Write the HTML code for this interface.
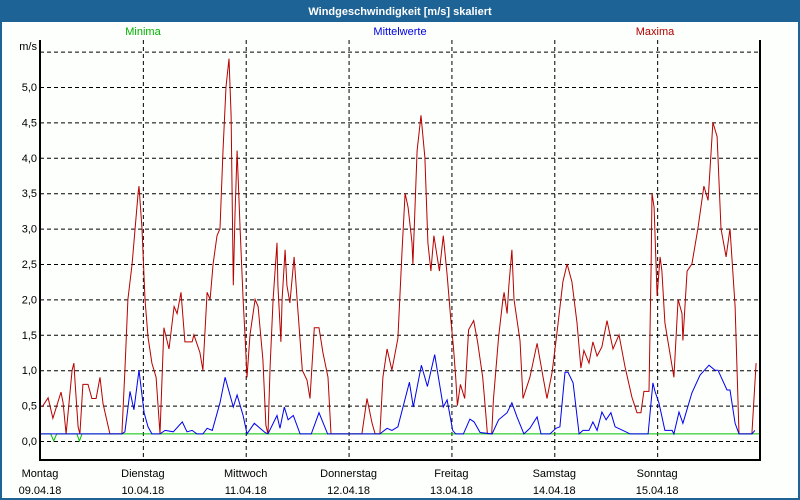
<!DOCTYPE html>
<html><head><meta charset="utf-8"><style>
body{margin:0;background:#fff;}
#wrap{position:relative;width:800px;height:500px;overflow:hidden;background:#1d6396;}
svg{position:absolute;left:0;top:0;}
text{font-family:"Liberation Sans",sans-serif;font-size:11px;}
</style></head><body>
<div id="wrap">
<svg id="chart" width="800" height="500">
<rect x="2" y="22" width="796" height="476" fill="#fcfffc"/>
<text x="400" y="15" text-anchor="middle" fill="#fff" font-weight="bold">Windgeschwindigkeit [m/s] skaliert</text>
<text x="143" y="35" text-anchor="middle" fill="#00b000">Minima</text>
<text x="400" y="35" text-anchor="middle" fill="#0000e0">Mittelwerte</text>
<text x="655" y="35" text-anchor="middle" fill="#b00000">Maxima</text>
<text x="37" y="50" text-anchor="end" fill="#000">m/s</text>
<g id="grid"></g><g id="series"></g>
<line x1="40" y1="40" x2="40" y2="461" stroke="#000" stroke-width="2"/>
<line x1="40" y1="460" x2="761" y2="460" stroke="#000" stroke-width="2"/>
<line x1="760" y1="40" x2="760" y2="461" stroke="#000" stroke-width="2"/>
</svg>
</div>
<script>
const yTicks=[0,0.5,1,1.5,2,2.5,3,3.5,4,4.5,5,5.5];
const yTickLabels=["0,0","0,5","1,0","1,5","2,0","2,5","3,0","3,5","4,0","4,5","5,0",""];
const dayNames=["Montag","Dienstag","Mittwoch","Donnerstag","Freitag","Samstag","Sonntag"];
const dayDates=["09.04.18","10.04.18","11.04.18","12.04.18","13.04.18","14.04.18","15.04.18"];
const maxT=[0.5,1.9,3.0,4.9,5.4,6.1,7.5,7.9,8.2,8.9,9.3,10.0,11.2,12.1,13.1,14.0,14.7,16.3,19.1,19.8,20.5,21.5,22.2,22.9,23.1,23.8,24.5,25.2,26.1,27.1,28.0,28.9,30.1,31.3,32.0,32.9,33.8,35.5,35.9,37.3,38.0,39.0,39.7,40.4,41.3,42.0,42.7,43.4,44.1,44.6,45.1,45.5,46.0,46.7,47.4,47.8,48.3,49.0,50.2,50.9,52.0,52.7,53.2,53.7,54.4,55.3,55.5,56.2,56.5,57.2,57.6,58.3,59.3,60.0,61.2,62.3,63.0,64.0,65.1,66.0,67.2,67.9,75.1,76.3,77.5,78.2,79.3,80.0,81.0,82.1,83.5,84.5,85.2,85.9,86.8,87.0,88.0,88.9,89.8,90.5,91.2,91.9,93.2,94.1,95.0,95.8,96.5,97.0,97.4,98.1,99.1,100.0,101.2,102.1,103.3,104.0,104.4,105.4,105.8,107.0,108.0,108.3,109.0,109.4,110.1,110.6,112.0,112.7,114.3,116.0,117.4,118.3,119.5,120.6,122.0,123.0,124.1,125.3,126.2,126.9,128.1,129.0,130.0,131.1,132.3,133.7,135.1,136.5,138.1,139.3,140.2,140.9,142.1,142.6,142.8,143.3,144.0,144.7,145.1,145.8,147.9,148.9,149.8,150.0,151.0,152.1,153.5,154.9,155.9,157.0,158.0,158.9,160.1,161.0,162.2,163.1,166.1,167.1];
const maxV=[0.48,0.61,0.32,0.69,0.54,0.1,1.0,1.1,0.82,0.2,0.1,0.8,0.8,0.6,0.6,0.9,0.53,0.1,0.1,1.0,2.0,2.5,3.0,3.5,3.6,3.0,2.0,1.47,1.1,0.9,0.1,1.6,1.3,1.9,1.8,2.1,1.4,1.4,1.5,1.25,1.0,2.1,2.0,2.5,2.9,3.0,4.1,5.0,5.4,4.6,2.2,3.2,4.1,3.0,2.0,1.52,0.9,1.5,2.0,1.9,1.15,0.22,0.1,1.05,2.0,2.8,2.2,1.4,2.0,2.7,2.2,1.95,2.6,2.0,1.0,0.86,0.6,1.6,1.6,1.25,0.9,0.1,0.1,0.6,0.25,0.1,0.1,0.9,1.3,1.0,1.45,2.7,3.5,3.3,2.8,2.5,4.1,4.6,4.0,2.8,2.4,2.9,2.4,2.9,2.35,1.75,1.3,0.9,0.5,0.8,0.6,1.57,1.7,1.4,0.9,0.4,0.1,0.1,0.58,1.47,2.0,2.1,1.8,2.2,2.7,2.0,1.42,0.6,0.9,1.38,0.9,0.6,0.97,1.52,2.25,2.5,2.25,1.67,1.03,1.28,1.1,1.4,1.2,1.33,1.7,1.3,1.5,1.05,0.62,0.4,0.4,0.7,0.7,2.45,3.5,3.3,2.05,2.6,2.4,1.67,0.9,2.0,1.8,1.42,2.4,2.5,3.0,3.6,3.4,4.5,4.3,3.0,2.6,3.0,1.9,0.1,0.1,1.1];
const meanT=[0,19.1,19.8,21.0,21.9,23.1,24.3,25.2,26.1,28.0,29.2,31.1,33.2,34.3,35.5,36.6,38.0,39.0,40.2,42.0,43.2,45.1,46.0,47.4,48.3,50.0,52.5,53.2,55.3,56.0,57.0,57.9,59.1,60.7,63.3,65.1,67.1,79.3,81.0,82.1,83.5,86.2,87.1,89.0,90.4,92.1,94.1,95.0,96.3,97.0,98.8,100.3,101.3,102.7,105.5,107.0,109.0,110.1,111.3,112.9,114.3,116.0,116.9,119.0,120.4,121.3,122.5,123.2,124.4,125.8,126.7,128.1,129.0,130.0,131.1,132.1,133.2,134.2,136.0,137.7,141.9,143.0,143.5,144.4,145.8,147.5,147.9,149.1,150.0,152.1,154.0,156.1,157.5,158.2,160.3,161.0,162.2,163.1,166.1,166.8];
const meanV=[0.1,0.1,0.13,0.7,0.44,1.0,0.4,0.2,0.1,0.1,0.15,0.13,0.27,0.13,0.15,0.1,0.1,0.18,0.15,0.54,0.9,0.48,0.65,0.36,0.1,0.25,0.12,0.1,0.36,0.18,0.48,0.3,0.36,0.1,0.1,0.4,0.1,0.1,0.18,0.15,0.2,0.83,0.48,1.07,0.77,1.22,0.48,0.58,0.15,0.1,0.1,0.31,0.27,0.12,0.1,0.3,0.4,0.54,0.34,0.1,0.18,0.34,0.1,0.1,0.18,0.2,0.97,0.97,0.82,0.1,0.15,0.15,0.27,0.15,0.41,0.3,0.4,0.2,0.15,0.1,0.1,0.82,0.7,0.54,0.15,0.15,0.1,0.41,0.25,0.68,0.93,1.07,1.0,1.0,0.72,0.72,0.25,0.1,0.1,0.15];
const minT=[0,2.5,3.2,3.9,8.6,9.2,9.8,168];
const minV=[0.1,0.1,0,0.1,0.1,0,0.1,0.1];

const NS="http://www.w3.org/2000/svg";
const X0=40,X1=760,Y0=441,PX=70.8;
function xs(h){return X0+h*(X1-X0)/168;}
function ys(v){return Y0-v*PX;}
const grid=document.getElementById('grid'),svg=document.getElementById('chart'),ser=document.getElementById('series');
function mk(tag,attrs,parent){const e=document.createElementNS(NS,tag);for(const k in attrs)e.setAttribute(k,attrs[k]);parent.appendChild(e);return e;}
yTicks.forEach((v,i)=>{
  const l=mk('line',{x1:X0,x2:X1,y1:ys(v)+0.5,y2:ys(v)+0.5,stroke:'#000','stroke-dasharray':'4,3'},grid);
  
  
  if(yTickLabels[i]){
    const t=mk('text',{x:37,y:ys(v)+4,'text-anchor':'end',fill:'#000'},svg);
    t.textContent=yTickLabels[i];
    
    
  }
});
dayNames.forEach((d,i)=>{
  const x=xs(i*24);
  if(i>0){
    const l=mk('line',{x1:x+0.5,x2:x+0.5,y1:40,y2:460,stroke:'#000','stroke-dasharray':'4,3'},grid);
    
    
  }
  const t=mk('text',{x:x,y:477,'text-anchor':'middle',fill:'#000'},svg);
  t.textContent=d;
  
  
  const t2=mk('text',{x:x,y:494,'text-anchor':'middle',fill:'#000'},svg);
  t2.textContent=dayDates[i];
  
  
});
function line(T,V,color,name){
  const p=T.map((t,i)=>xs(t).toFixed(1)+','+ys(V[i]).toFixed(1)).join(' ');
  const e=mk('polyline',{points:p,fill:'none',stroke:color,'stroke-width':1},ser);
  
  
}
line(maxT,maxV,'#b80000','maxima-line');
line(minT,minV,'#00c000','minima-line');
line(meanT,meanV,'#0000ee','mittelwerte-line');
</script>
</body></html>
